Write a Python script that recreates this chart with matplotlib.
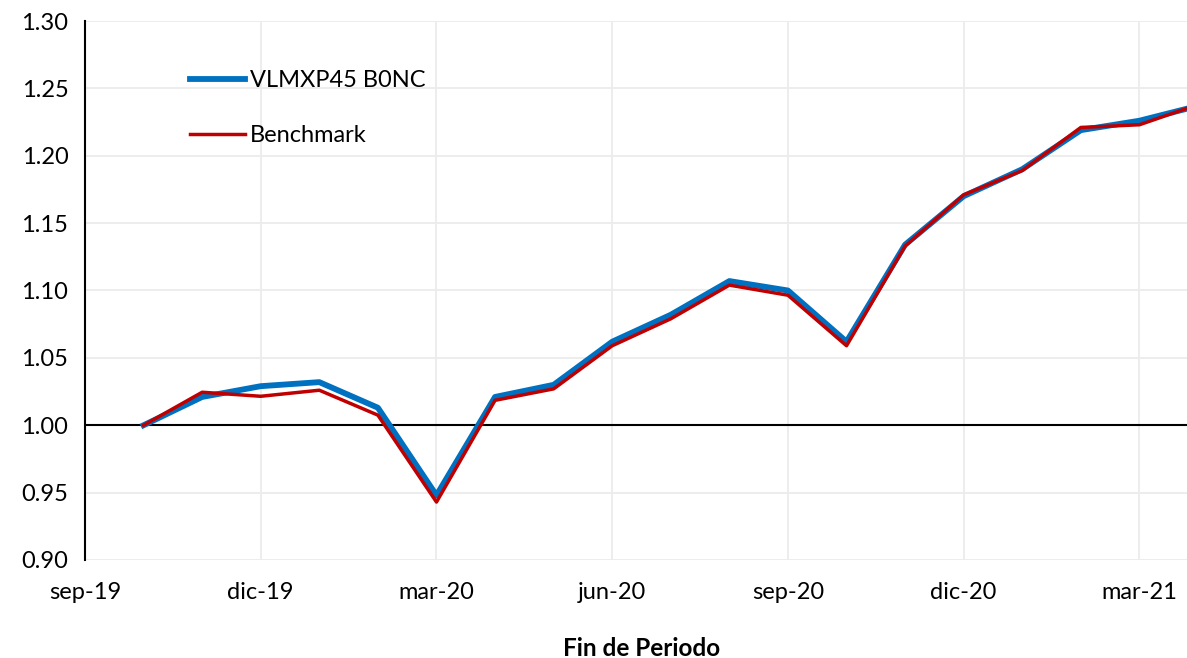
import matplotlib.pyplot as plt
from matplotlib.patches import Rectangle

plt.rcParams['font.family'] = ['Lato', 'DejaVu Sans']

# month index from sep-19 (0); values are end of month, oct-19 .. apr-21
meses = list(range(1, 20))

fondo = [1.000, 1.021, 1.029, 1.032, 1.013, 0.948, 1.021, 1.030, 1.062, 1.082,
         1.107, 1.100, 1.062, 1.134, 1.170, 1.190, 1.219, 1.226, 1.237]
benchmark = [1.000, 1.0245, 1.0215, 1.026, 1.0075, 0.943, 1.0185, 1.027, 1.059, 1.079,
             1.104, 1.0965, 1.059, 1.133, 1.171, 1.189, 1.221, 1.223, 1.238]

tick_pos = [0, 3, 6, 9, 12, 15, 18]
tick_labels = ["sep-19", "dic-19", "mar-20", "jun-20", "sep-20", "dic-20", "mar-21"]
y_ticks = [0.90, 0.95, 1.00, 1.05, 1.10, 1.15, 1.20, 1.25, 1.30]

W, H = 1187, 658
fig = plt.figure(figsize=(W / 100, H / 100), dpi=100)
# axes runs a bit past the right edge, like the cropped original
ax_w, ax_h = 1113, 539
ax = fig.add_axes([85 / W, 1 - 560 / H, ax_w / W, ax_h / H])

ax.plot(meses, fondo, color="#0070c0", lw=4.2, label="VLMXP45 B0NC", zorder=3)
ax.plot(meses, benchmark, color="#c00000", lw=2.5, label="Benchmark", zorder=4)
ax.axhline(1.0, color="black", lw=1.5, zorder=2)

ax.set_xlim(0, 19)
ax.set_ylim(0.90, 1.30)
ax.set_xticks(tick_pos)
ax.set_xticklabels(tick_labels)
ax.set_yticks(y_ticks)
ax.set_yticklabels([f"{v:.2f}" for v in y_ticks])
ax.tick_params(axis="both", length=0, labelsize=17, colors="black")
ax.tick_params(axis="x", pad=16)
ax.tick_params(axis="y", pad=12)

ax.grid(True, color="#ececec", lw=1.3, zorder=0)
for s in ["top", "right", "bottom"]:
    ax.spines[s].set_visible(False)
ax.spines["left"].set_linewidth(1.5)

ax.set_xlabel("Fin de Periodo", fontsize=17.5, fontweight="bold", labelpad=24)

# white plate behind the legend (hides the grid)
ax.add_patch(Rectangle(((135 - 85) / ax_w, 1 - (160 - 21) / ax_h),
                       (465 - 135) / ax_w, (160 - 53) / ax_h,
                       transform=ax.transAxes, facecolor="white",
                       edgecolor="none", zorder=1))

leg = ax.legend(loc="upper left", bbox_to_anchor=((190 - 85) / ax_w, 1 - (70 - 21) / ax_h),
                frameon=False, fontsize=17, handlelength=2.35, handletextpad=0.2,
                labelspacing=1.45, borderpad=0, borderaxespad=0)

fig.savefig("out.png", dpi=100)
